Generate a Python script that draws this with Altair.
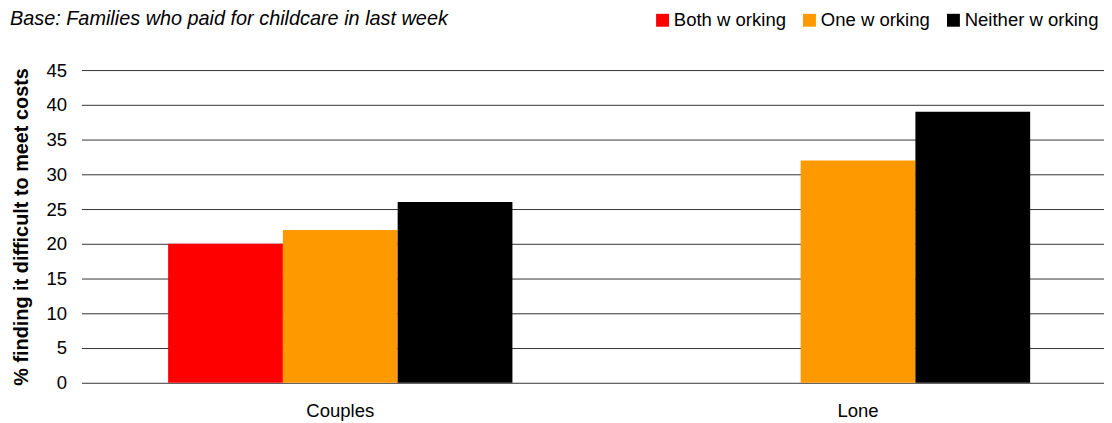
import altair as alt
import pandas as pd

groups = ["Couples", "Couples", "Couples", "Lone", "Lone"]
series = ["Both w orking", "One w orking", "Neither w orking", "One w orking", "Neither w orking"]
values = [20, 22, 26, 32, 39]

series_order = ["Both w orking", "One w orking", "Neither w orking"]
series_colors = ["#FF0000", "#FF9900", "#000000"]
y_ticks = [0, 5, 10, 15, 20, 25, 30, 35, 40, 45]

df = pd.DataFrame({"group": groups, "series": series, "value": values})

FONT = "Liberation Sans"

chart = (
    alt.Chart(df)
    .mark_bar()
    .encode(
        x=alt.X(
            "group:N",
            sort=["Couples", "Lone"],
            scale=alt.Scale(paddingInner=0.335, paddingOuter=0.155, align=0.54),
            axis=alt.Axis(
                title=None,
                labelAngle=0,
                labelFont=FONT,
                labelFontSize=18.67,
                labelColor="#000000",
                labelBaseline="alphabetic",
                labelPadding=34,
                ticks=False,
                tickSize=0,
                domain=False,
                grid=False,
            ),
        ),
        xOffset=alt.XOffset("series:N", sort=series_order, scale=alt.Scale(domain=series_order, paddingInner=0, paddingOuter=0)),
        y=alt.Y(
            "value:Q",
            scale=alt.Scale(domain=[0, 45], nice=False),
            axis=alt.Axis(
                title="% finding it difficult to meet costs",
                titleFont=FONT,
                titleFontSize=20,
                titleFontWeight="bold",
                titleColor="#000000",
                titleBaseline="middle",
                titleAlign="center",
                titleX=-60,
                titleY=157.5,
                values=y_ticks,
                labelFont=FONT,
                labelFontSize=18.67,
                labelColor="#000000",
                labelPadding=15,
                ticks=False,
                tickSize=0,
                domain=False,
                grid=True,
                gridColor="#333333",
                gridWidth=1,
            ),
        ),
        color=alt.Color(
            "series:N",
            scale=alt.Scale(domain=series_order, range=series_colors),
            legend=alt.Legend(
                title=None,
                orient="none",
                direction="horizontal",
                legendX=576,
                legendY=-60,
                symbolType="square",
                symbolSize=169,
                symbolStrokeWidth=0,
                labelFont=FONT,
                labelFontSize=18.67,
                labelColor="#000000",
                labelOffset=2,
                columnPadding=14,
                padding=0,
            ),
        ),
    )
    .properties(
        width=1030,
        height=315,
        padding={"left": 74, "top": 61, "right": 0, "bottom": 39},
        autosize=alt.AutoSizeParams(type="none"),
        title=alt.TitleParams(
            "Base: Families who paid for childcare in last week",
            anchor="start",
            frame="group",
            font=FONT,
            fontSize=20,
            fontStyle="italic",
            fontWeight="normal",
            color="#000000",
            baseline="alphabetic",
            offset=0,
            dx=-72,
            dy=35,
        ),
    )
    .configure_view(stroke=None)
)

chart.save("out.html", embed_options={"renderer": "svg", "actions": False})
